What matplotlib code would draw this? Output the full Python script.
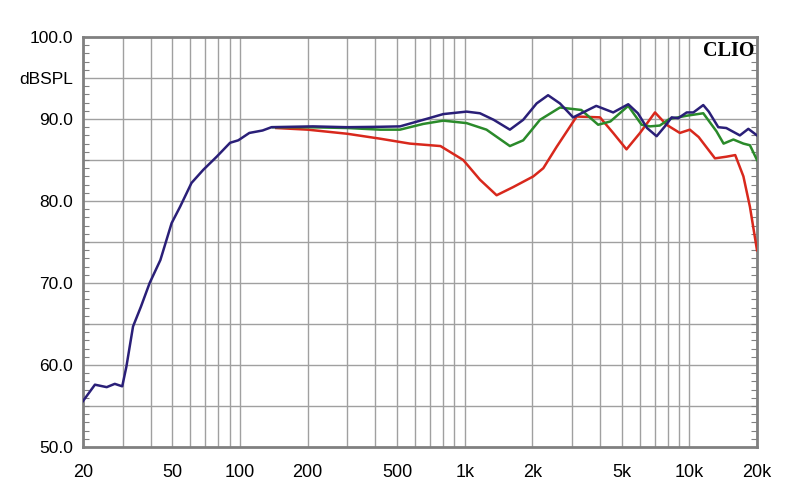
import matplotlib
matplotlib.use("Agg")
import matplotlib.pyplot as plt
from matplotlib.ticker import FixedLocator, NullFormatter, MultipleLocator

# ---- data ----
blue_f = [20, 22.6, 25.5, 27.7, 29.9, 31.2, 33.4, 36.2, 39.6, 44.2, 49.6, 54.1,
          60.8, 68.6, 78.7, 90.3, 98.2, 110, 126, 138, 211, 300, 420, 515, 654,
          803, 1019, 1169, 1346, 1589, 1821, 2090, 2350, 2654, 3039, 3850, 4580,
          5344, 5900, 6480, 7150, 7780, 8341, 8920, 9730, 10420, 11530, 12200,
          13450, 14600, 16780, 18300, 20000]
blue_db = [55.6, 57.6, 57.3, 57.7, 57.4, 59.8, 64.7, 67.1, 70.0, 72.8, 77.3, 79.3,
           82.2, 83.8, 85.4, 87.1, 87.4, 88.3, 88.6, 89.0, 89.1, 89.0, 89.05, 89.1, 89.9,
           90.6, 90.9, 90.7, 89.9, 88.7, 89.9, 91.9, 92.9, 91.9, 90.2, 91.6, 90.8,
           91.8, 90.7, 88.9, 87.9, 89.1, 90.2, 90.1, 90.8, 90.8, 91.7, 90.9,
           89.0, 88.9, 88.0, 88.8, 88.0]

green_f = [140, 200, 300, 420, 515, 654, 803, 1019, 1250, 1589, 1821, 2163, 2654,
           3303, 3927, 4450, 5344, 6130, 6672, 7380, 8150, 9730, 11530, 13200,
           14200, 15700, 17400, 18600, 20000]
green_db = [89.0, 89.0, 88.9, 88.7, 88.7, 89.4, 89.8, 89.5, 88.7, 86.7, 87.4, 89.9, 91.4,
            91.1, 89.3, 89.7, 91.6, 89.3, 89.1, 89.2, 90.0, 90.4, 90.7, 88.5,
            87.0, 87.5, 87.0, 86.8, 85.0]

red_f = [145, 200, 300, 420, 570, 780, 985, 1169, 1387, 1644, 2020, 2238, 2565,
         3150, 4000, 4580, 5250, 6030, 7030, 7910, 9070, 10050, 11000, 13000,
         14600, 16000, 17400, 18600, 20000]
red_db = [88.9, 88.7, 88.2, 87.6, 87.0, 86.7, 85.0, 82.6, 80.7, 81.7, 83.0, 84.0, 86.6,
          90.3, 90.2, 88.3, 86.3, 88.3, 90.8, 89.3, 88.3, 88.7, 87.8, 85.2,
          85.4, 85.6, 83.0, 79.3, 74.0]

x_ticks = [20, 50, 100, 200, 500, 1000, 2000, 5000, 10000, 20000]
x_labels = ["20", "50", "100", "200", "500", "1k", "2k", "5k", "10k", "20k"]
y_ticks = [50, 60, 70, 80, 90, 95, 100]
y_labels = ["50.0", "60.0", "70.0", "80.0", "90.0", "dBSPL", "100.0"]

plt.rcParams['font.family'] = ['Liberation Sans', 'DejaVu Sans']

fig = plt.figure(figsize=(8, 5.04), dpi=100)
ax = fig.add_axes([83/800, 1 - 447/504, (757 - 83)/800, (447 - 37)/504])

ax.set_xscale('log')
ax.set_xlim(20, 20000)
ax.set_ylim(50, 100)

# grid lines
grid_x = [20, 30, 40, 50, 60, 70, 80, 90, 100, 200, 300, 400, 500, 600, 700, 800, 900,
          1000, 2000, 3000, 4000, 5000, 6000, 7000, 8000, 9000, 10000, 20000]
for gx in grid_x:
    ax.axvline(gx, color='#a0a0a0', lw=1.0, zorder=1)
for gy in range(55, 100, 5):
    ax.axhline(gy, color='#a0a0a0', lw=1.0, zorder=1)

ax.plot(red_f, red_db, color='#d8281c', lw=1.8, zorder=3, solid_joinstyle='round')
ax.plot(green_f, green_db, color='#2a8a2a', lw=1.8, zorder=4, solid_joinstyle='round')
ax.plot(blue_f, blue_db, color='#2a1f78', lw=1.8, zorder=5, solid_joinstyle='round')

ax.xaxis.set_major_locator(FixedLocator(x_ticks))
ax.set_xticklabels(x_labels)
ax.xaxis.set_minor_locator(FixedLocator([]))
ax.xaxis.set_minor_formatter(NullFormatter())
ax.tick_params(axis='x', which='major', length=0, pad=12, labelsize=13, colors='black')

ax.set_yticks(y_ticks)
ax.set_yticklabels(y_labels)
ax.yaxis.set_minor_locator(MultipleLocator(1))
ax.tick_params(axis='y', which='major', length=0, pad=7, labelsize=12.5)
ax.tick_params(axis='y', which='minor', direction='in', length=4, width=0.8,
               color='#808080', left=True, right=True)

for s in ax.spines.values():
    s.set_color('#808080')
    s.set_linewidth(2.0)

ax.text(0.997, 0.99, "CLIO", transform=ax.transAxes, ha='right', va='top',
        fontsize=14.5, fontweight='bold', family=['Liberation Serif', 'DejaVu Serif'],
        zorder=6)

fig.savefig("out.png", dpi=100)
